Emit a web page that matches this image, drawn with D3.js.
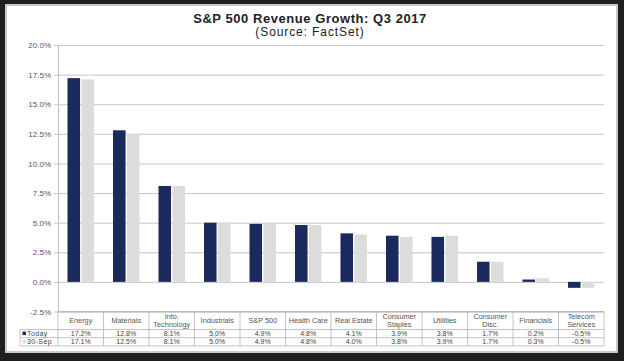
<!DOCTYPE html>
<html>
<head>
<meta charset="utf-8">
<script src="https://cdn.jsdelivr.net/npm/d3@7"></script>
<style>
  html, body { margin: 0; padding: 0; background: #1f1f1f; }
  svg { display: block; font-family: "Liberation Sans", Arial, sans-serif; }
</style>
</head>
<body>
<div id="chart-area"></div>
<script>
var width = 624, height = 361;

// data
var sectors = ["Energy", "Materials", "Info.\nTechnology", "Industrials", "S&P 500", "Health Care",
	"Real Estate", "Consumer\nStaples", "Utilities", "Consumer\nDisc.", "Financials", "Telecom\nServices"];
var today = [17.2, 12.8, 8.1, 5.0, 4.9, 4.8, 4.1, 3.9, 3.8, 1.7, 0.2, -0.5];
var sep30 = [17.1, 12.5, 8.1, 5.0, 4.9, 4.8, 4.0, 3.8, 3.9, 1.7, 0.3, -0.5];
var seriesNames = ["Today", "30-Sep"];
var seriesColors = ["#1b2a5c", "#dcdcdc"];
var yTicks = [-2.5, 0, 2.5, 5, 7.5, 10, 12.5, 15, 17.5, 20];

var svg = d3.select("#chart-area")
	.append("svg")
		.attr("width", width)
		.attr("height", height);

// white panel with grey border
svg.append("rect")
	.attr("x", 6).attr("y", 5)
	.attr("width", 611).attr("height", 347)
	.attr("fill", "#fff")
	.attr("stroke", "#c9c9c9")
	.attr("stroke-width", 2);

//titles
svg.append("text")
	.attr("x", 310).attr("y", 23)
	.attr("text-anchor", "middle")
	.attr("font-size", "13px")
	.attr("letter-spacing", "0.55px")
	.attr("font-weight", "bold")
	.attr("fill", "#222")
	.text("S&P 500 Revenue Growth: Q3 2017");

svg.append("text")
	.attr("x", 310).attr("y", 36)
	.attr("text-anchor", "middle")
	.attr("font-size", "12px")
	.attr("letter-spacing", "0.9px")
	.attr("fill", "#222")
	.text("(Source: FactSet)");

//scales
var x0 = d3.scaleBand()
	.domain(sectors)
	.range([58, 604])
	.padding(0);

var x1 = d3.scaleBand()
	.domain(seriesNames)
	.range([9.5, x0.bandwidth() - 9.5])
	.paddingInner(0.1);

var y = d3.scaleLinear()
	.domain([-2.5, 20])
	.range([311.5, 45]);

//gridlines + y axis
var yAxisCall = d3.axisLeft(y)
	.tickValues(yTicks)
	.tickSize(-(604 - 58))
	.tickPadding(7)
	.tickFormat(function(d){ return d.toFixed(1) + "%"; });

var yAxis = svg.append("g")
	.attr("transform", "translate(58, 0)")
	.call(yAxisCall);
yAxis.select(".domain").attr("stroke", "#bdbdbd");
yAxis.selectAll(".tick line")
	.attr("stroke", "#c6c6c6")
	.attr("x1", -4);
yAxis.selectAll(".tick text")
	.attr("font-size", "8px")
	.attr("fill", "#555")
	.attr("font-family", "'Liberation Sans', Arial, sans-serif");

//bars
var rows = sectors.map(function(s, i){
	return { sector: s, values: [today[i], sep30[i]] };
});

var groups = svg.selectAll(".sector")
	.data(rows)
	.enter().append("g")
		.attr("class", "sector")
		.attr("transform", function(d){ return "translate(" + x0(d.sector) + ", 0)"; });

groups.selectAll("rect")
	.data(function(d){ return d.values.map(function(v, j){ return { name: seriesNames[j], value: v, c: seriesColors[j] }; }); })
	.enter().append("rect")
		.attr("x", function(d){ return x1(d.name); })
		.attr("y", function(d){ return y(Math.max(0, d.value)); })
		.attr("width", x1.bandwidth())
		.attr("height", function(d){ return Math.abs(y(d.value) - y(0)); })
		.attr("fill", function(d){ return d.c; });

//data table
var tTop = 311.5, hRow = 18, dRow = 8.2;
var tLeft = 20, tRight = 604;
var table = svg.append("g").attr("stroke", "#b5b5b5").attr("stroke-width", 0.8);

// horizontal lines
[tTop + hRow, tTop + hRow + dRow, tTop + hRow + 2 * dRow].forEach(function(yy){
	table.append("line").attr("x1", tLeft).attr("x2", tRight).attr("y1", yy).attr("y2", yy);
});
table.append("line").attr("x1", 58).attr("x2", tRight).attr("y1", tTop).attr("y2", tTop);
// vertical lines
sectors.forEach(function(s){
	table.append("line").attr("x1", x0(s)).attr("x2", x0(s))
		.attr("y1", tTop).attr("y2", tTop + hRow + 2 * dRow);
});
table.append("line").attr("x1", tRight).attr("x2", tRight)
	.attr("y1", tTop).attr("y2", tTop + hRow + 2 * dRow);
table.append("line").attr("x1", tLeft).attr("x2", tLeft)
	.attr("y1", tTop + hRow).attr("y2", tTop + hRow + 2 * dRow);

// header labels
groups.each(function(d){
	var lines = d.sector.split("\n");
	var t = d3.select(this).append("text")
		.attr("text-anchor", "middle")
		.attr("font-size", "7.3px")
		.attr("fill", "#555");
	var cy = tTop + hRow / 2 + 2.5 - (lines.length - 1) * 4;
	lines.forEach(function(l, k){
		t.append("tspan")
			.attr("x", x0.bandwidth() / 2)
			.attr("y", cy + k * 8)
			.text(l);
	});
});

// value rows
[today, sep30].forEach(function(vals, r){
	var yy = tTop + hRow + r * dRow + dRow - 1.6;
	svg.append("rect")
		.attr("x", tLeft + 2.5).attr("y", yy - 4.5)
		.attr("width", 3.5).attr("height", 3.5)
		.attr("fill", seriesColors[r]);
	svg.append("text")
		.attr("x", tLeft + 7).attr("y", yy)
		.attr("font-size", "7px")
		.attr("letter-spacing", "0.4px")
		.attr("fill", "#444")
		.text(seriesNames[r]);
	vals.forEach(function(v, i){
		svg.append("text")
			.attr("x", x0(sectors[i]) + x0.bandwidth() / 2)
			.attr("y", yy)
			.attr("text-anchor", "middle")
			.attr("font-size", "7px")
			.attr("fill", "#444")
			.text(v.toFixed(1) + "%");
	});
});
</script>
</body>
</html>
